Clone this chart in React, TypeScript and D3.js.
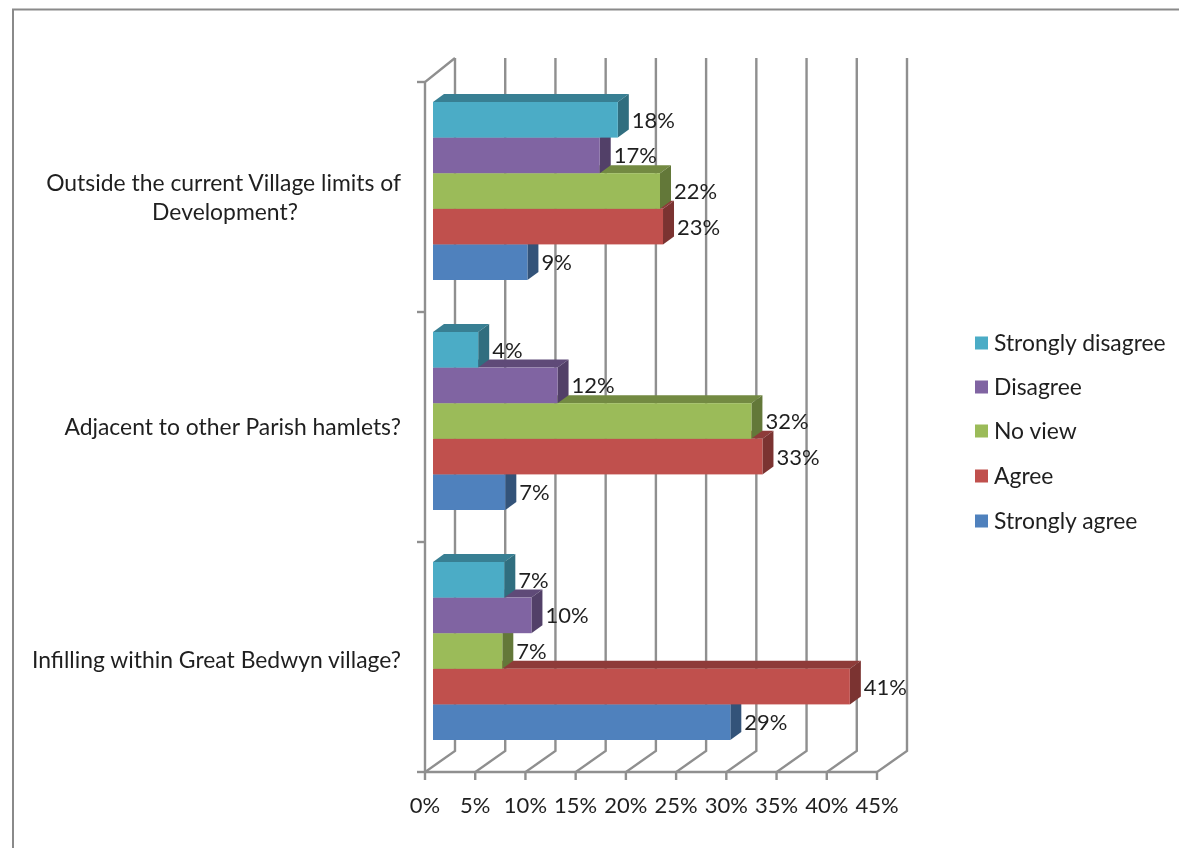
import React from "react";
import * as d3 from "d3";

const categories = ["Outside the current Village limits of Development?", "Adjacent to other Parish hamlets?", "Infilling within Great Bedwyn village?"];
const categoryLines = [["Outside the current Village limits of", "Development?"], ["Adjacent to other Parish hamlets?"], ["Infilling within Great Bedwyn village?"]];
const seriesNames = ["Strongly disagree", "Disagree", "No view", "Agree", "Strongly agree"];
const seriesColors = ["#4BACC6", "#8064A2", "#9BBB59", "#C0504D", "#4F81BD"];
const stronglyDisagree = [18.4, 4.5, 7.1];
const disagree = [16.6, 12.4, 9.8];
const noView = [22.6, 31.7, 6.9];
const agree = [22.9, 32.8, 41.5];
const stronglyAgree = [9.4, 7.2, 29.6];
const stronglyDisagreeLabels = ["18%", "4%", "7%"];
const disagreeLabels = ["17%", "12%", "10%"];
const noViewLabels = ["22%", "32%", "7%"];
const agreeLabels = ["23%", "33%", "41%"];
const stronglyAgreeLabels = ["9%", "7%", "29%"];
const xTicks = [0, 5, 10, 15, 20, 25, 30, 35, 40, 45];

const seriesValues = [stronglyDisagree, disagree, noView, agree, stronglyAgree];
const seriesLabels = [stronglyDisagreeLabels, disagreeLabels, noViewLabels, agreeLabels, stronglyAgreeLabels];

const FONT = "Lato, Carlito, sans-serif";
const TEXT = "#1f1f1f";
const GRID = "#8f8f8f";
const W = 1179, H = 848;
const x = d3.scaleLinear().domain([0, 45]).range([425, 877]);
const y = d3.scaleBand<string>().domain(categories).range([82, 772]).paddingInner(0).paddingOuter(0);
const inner = d3.scaleBand<string>().domain(seriesNames).range([-89, 89]);
const wallDX = 30, wallDY = -21;
const barOX = 8, barOY = -6;
const depthX = 11, depthY = -8;
const shade = (c: string, k: number) => {
  const r = d3.rgb(c);
  return d3.rgb(r.r * k, r.g * k, r.b * k).formatHex();
};
const poly = (pts: [number, number][]) => d3.line()(pts) + "Z";

export default function App() {
  const order = d3.range(seriesNames.length).reverse();
  return (
    <svg width={W} height={H} viewBox={`0 0 ${W} ${H}`}
      style={{ position: "absolute", left: 0, top: 0, background: "#fff", filter: "blur(0.45px)" }}
      fontFamily={FONT} fill={TEXT}>
      <path d={`M13 ${H}V9.5H${W}`} fill="none" stroke="#8a8a8a" strokeWidth={2} />

      {xTicks.map((t) => (
        <g key={t} stroke={GRID} strokeWidth={2.4} fill="none">
          <path d={`M${x(t) + wallDX} 58V${772 + wallDY}L${x(t)} 772V780`} />
          <text x={x(t)} y={813} textAnchor="middle" fontSize={22} fill={TEXT} stroke="none">{t}%</text>
        </g>
      ))}
      <path d={`M${x(0)} 772H${x(45)}`} stroke={GRID} strokeWidth={2.4} fill="none" />
      <path d={`M${x(0) + wallDX} 58L${x(0)} 82V772`} stroke={GRID} strokeWidth={2.4} fill="none" />
      {[...categories.map((c) => y(c)!), 772].map((t) => (
        <path key={t} d={`M417 ${t}H425`} stroke={GRID} strokeWidth={2.4} fill="none" />
      ))}

      {categories.map((c, ci) => {
        const cy = y(c)! + y.bandwidth() / 2;
        const lines = categoryLines[ci];
        return lines.map((l, li) => (
          <text key={l} x={li === 0 ? 401 : 225} y={cy + 8 + (li - (lines.length - 1) / 2) * 29 + (ci === 2 ? 3 : 0)}
            textAnchor={li === 0 ? "end" : "middle"} fontSize={22.9}>{l}</text>
        ));
      })}

      {categories.map((c, ci) =>
        seriesNames.map((s, si) => {
          const cy = y(c)! + y.bandwidth() / 2 + barOY;
          return (
            <text key={c + s} x={x(seriesValues[si][ci]) + barOX + depthX + 3}
              y={cy + inner(s)! + inner.bandwidth() / 2 + 8} fontSize={22}>{seriesLabels[si][ci]}</text>
          );
        })
      )}

      {categories.map((c, ci) =>
        order.map((si) => {
          const s = seriesNames[si];
          const col = seriesColors[si];
          const cy = y(c)! + y.bandwidth() / 2 + barOY;
          const x0 = x(0) + barOX;
          const x1 = x(seriesValues[si][ci]) + barOX;
          const y0 = cy + inner(s)!;
          const y1 = y0 + inner.bandwidth();
          return (
            <g key={c + s}>
              <path d={poly([[x0, y0], [x0 + depthX, y0 + depthY], [x1 + depthX, y0 + depthY], [x1, y0]])} fill={shade(col, 0.74)} />
              <path d={poly([[x1, y0], [x1 + depthX, y0 + depthY], [x1 + depthX, y1 + depthY], [x1, y1]])} fill={shade(col, 0.64)} />
              <rect x={x0} y={y0} width={x1 - x0} height={y1 - y0} fill={col} />
            </g>
          );
        })
      )}

      {seriesNames.map((s, i) => {
        const ly = [343, 387, 431, 476, 521][i];
        return (
          <g key={s}>
            <rect x={975} y={ly - 6.5} width={13} height={13} fill={seriesColors[i]} />
            <text x={994} y={ly + 7.5} fontSize={22.9}>{s}</text>
          </g>
        );
      })}
    </svg>
  );
}
